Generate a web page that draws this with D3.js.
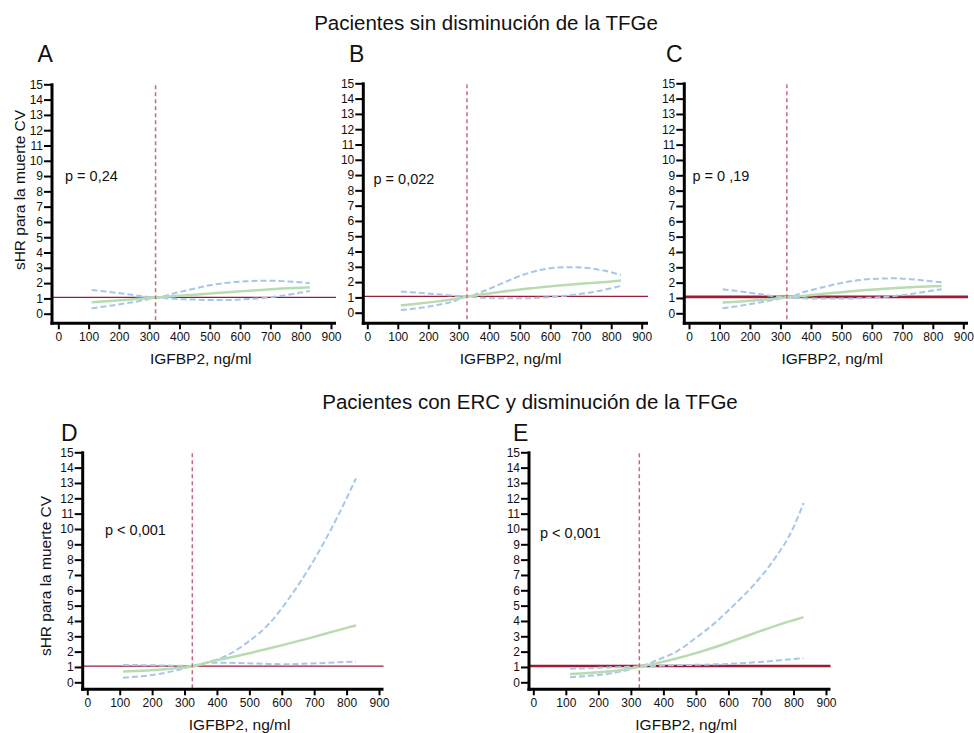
<!DOCTYPE html>
<html>
<head>
<meta charset="utf-8">
<script src="https://cdn.jsdelivr.net/npm/d3@7"></script>
<style>
  body { margin: 0; background: #fff; }
  text { font-family: "Liberation Sans", Arial, Helvetica, sans-serif; fill: #111; }
</style>
</head>
<body>
<svg id="chart" width="974" height="733"></svg>
<script>
/* chart text */
var titleTop = "Pacientes sin disminución de la TFGe";
var titleBottom = "Pacientes con ERC y disminución de la TFGe";
var yLabel = "sHR para la muerte CV";
var xLabel = "IGFBP2, ng/ml";

/* tick labels */
var yTicks = [0, 1, 2, 3, 4, 5, 6, 7, 8, 9, 10, 11, 12, 13, 14, 15];
var xTicks = [0, 100, 200, 300, 400, 500, 600, 700, 800, 900];

/* Panel A - sin disminución */
var xA  = [110, 170, 230, 280, 321, 380, 440, 500, 560, 620, 680, 740, 800, 830];
var hrA = [0.75, 0.83, 0.92, 0.99, 1.05, 1.14, 1.23, 1.32, 1.41, 1.49, 1.57, 1.64, 1.70, 1.73];
var upA = [1.55, 1.42, 1.27, 1.14, 1.05, 1.32, 1.60, 1.86, 2.03, 2.12, 2.16, 2.13, 2.05, 1.99];
var loA = [0.35, 0.52, 0.70, 0.87, 1.05, 0.97, 0.93, 0.90, 0.90, 0.95, 1.03, 1.18, 1.38, 1.48];

/* Panel B */
var xB  = [110, 170, 230, 280, 327, 380, 440, 500, 560, 620, 680, 740, 800, 832];
var hrB = [0.48, 0.60, 0.74, 0.88, 1.05, 1.20, 1.37, 1.52, 1.64, 1.76, 1.86, 1.95, 2.04, 2.10];
var upB = [1.38, 1.30, 1.20, 1.12, 1.05, 1.40, 1.90, 2.40, 2.76, 2.95, 2.98, 2.88, 2.65, 2.47];
var loB = [0.17, 0.30, 0.50, 0.72, 1.05, 0.97, 0.94, 0.94, 0.97, 1.05, 1.18, 1.35, 1.60, 1.75];

/* Panel C */
var xC  = [110, 170, 230, 280, 321, 380, 440, 500, 560, 620, 680, 740, 800, 829];
var hrC = [0.70, 0.77, 0.86, 0.95, 1.05, 1.15, 1.27, 1.38, 1.48, 1.57, 1.65, 1.71, 1.76, 1.78];
var upC = [1.57, 1.42, 1.26, 1.12, 1.05, 1.40, 1.70, 1.98, 2.17, 2.26, 2.28, 2.20, 2.08, 2.02];
var loC = [0.33, 0.50, 0.70, 0.88, 1.05, 0.98, 0.96, 0.96, 0.98, 1.03, 1.14, 1.30, 1.48, 1.57];

/* Panel D - ERC */
var xD  = [110, 170, 230, 280, 324, 380, 440, 500, 560, 620, 680, 740, 800, 829];
var hrD = [0.70, 0.76, 0.84, 0.93, 1.03, 1.35, 1.62, 1.90, 2.20, 2.52, 2.85, 3.20, 3.55, 3.70];
var upD = [1.13, 1.12, 1.10, 1.08, 1.07, 1.35, 1.85, 2.70, 3.80, 5.40, 7.30, 9.50, 12.0, 13.3];
var loD = [0.30, 0.40, 0.58, 0.80, 1.07, 1.28, 1.27, 1.24, 1.20, 1.18, 1.22, 1.27, 1.33, 1.35];

/* Panel E */
var xE  = [113, 170, 230, 280, 326, 380, 440, 500, 560, 620, 680, 740, 800, 831];
var hrE = [0.54, 0.60, 0.70, 0.84, 1.02, 1.25, 1.55, 1.90, 2.30, 2.75, 3.20, 3.65, 4.05, 4.25];
var upE = [0.88, 0.92, 0.97, 1.00, 1.05, 1.45, 2.00, 2.90, 3.90, 5.10, 6.40, 8.00, 10.1, 11.7];
var loE = [0.33, 0.42, 0.55, 0.75, 1.02, 1.08, 1.12, 1.14, 1.17, 1.22, 1.30, 1.40, 1.52, 1.57];

/* reference IGFBP2 value, HR line and p values */
var refX = [321, 327, 321, 324, 326];
var refHR = [1.07, 1.07, 1.07, 1.05, 1.06];
var pText = ["p = 0,24", "p = 0,022", "p = 0 ,19", "p < 0,001", "p < 0,001"];
var letters = ["A", "B", "C", "D", "E"];

/* layout of each panel (pixels) */
var layout = [
  { axisX: 52,    x0: 58.3,  x900: 331,   xEnd: 336,   yTop: 84.3,  yZero: 313.7, axisY: 323.3, refW: 1.1, letter: [37.5, 62],  pPos: [65, 181],    ylab: [20, 190] },
  { axisX: 363.3, x0: 367.3, x900: 641.7, xEnd: 648,   yTop: 83.3,  yZero: 312.7, axisY: 323.3, refW: 1.1, letter: [349, 62],   pPos: [373.5, 184], ylab: null },
  { axisX: 684.3, x0: 689,   x900: 963.3, xEnd: 968,   yTop: 83.3,  yZero: 313.3, axisY: 323.3, refW: 2.6, letter: [666, 62],   pPos: [692.5, 181], ylab: null },
  { axisX: 82.7,  x0: 87.3,  x900: 379,   xEnd: 383.5, yTop: 452.3, yZero: 682.3, axisY: 689.3, refW: 1.3, letter: [61, 441],   pPos: [105, 535],   ylab: [46, 576] },
  { axisX: 529,   x0: 533.3, x900: 826,   xEnd: 830.5, yTop: 452.3, yZero: 682.3, axisY: 689.3, refW: 2.6, letter: [513, 441],  pPos: [540, 538],   ylab: null }
];

var series = [
  [xA, hrA, upA, loA],
  [xB, hrB, upB, loB],
  [xC, hrC, upC, loC],
  [xD, hrD, upD, loD],
  [xE, hrE, upE, loE]
];

var svg = d3.select("#chart");

/* group titles */
svg.append("text").attr("x", 486).attr("y", 30).attr("text-anchor", "middle")
  .style("font-size", "20.5px").text(titleTop);
svg.append("text").attr("x", 530).attr("y", 409).attr("text-anchor", "middle")
  .style("font-size", "20.5px").text(titleBottom);

var drawPanel = function(i) {
  var L = layout[i];
  var xs = series[i][0];
  var x = d3.scaleLinear().domain([0, 900]).range([L.x0, L.x900]);
  var y = d3.scaleLinear().domain([0, 15]).range([L.yZero, L.yTop]);
  var g = svg.append("g");

  var line = function(vals) {
    return d3.line()
      .x(function(d, k) { return x(xs[k]); })
      .y(function(d) { return y(d); })
      .curve(d3.curveMonotoneX)(vals);
  };

  // HR = 1 reference line
  g.append("line")
    .attr("x1", L.axisX).attr("x2", L.xEnd)
    .attr("y1", y(refHR[i])).attr("y2", y(refHR[i]))
    .attr("stroke", "#9c1c34").attr("stroke-width", L.refW);

  // confidence bands
  [series[i][2], series[i][3]].forEach(function(vals) {
    g.append("path").attr("d", line(vals))
      .attr("fill", "none").attr("stroke", "#a6c6ea")
      .attr("stroke-width", 2).attr("stroke-dasharray", "6,3");
  });

  // estimate
  g.append("path").attr("d", line(series[i][1]))
    .attr("fill", "none").attr("stroke", "#b9dbb2").attr("stroke-width", 2.5);

  // reference value (vertical dashed)
  g.append("line")
    .attr("x1", x(refX[i])).attr("x2", x(refX[i]))
    .attr("y1", L.yTop + 1).attr("y2", L.axisY)
    .attr("stroke", "#c46a7b").attr("stroke-width", 1.5).attr("stroke-dasharray", "4,3");

  // axes
  var ya = g.append("g").attr("transform", "translate(" + L.axisX + ",0)")
    .call(d3.axisLeft(y).tickValues(yTicks).tickSize(8).tickPadding(1));
  var xa = g.append("g").attr("transform", "translate(0," + L.axisY + ")")
    .call(d3.axisBottom(x).tickValues(xTicks).tickSize(6).tickPadding(3));
  [ya, xa].forEach(function(a) {
    a.select(".domain").remove();
    a.selectAll(".tick line").attr("stroke", "#000").attr("stroke-width", 2);
    a.selectAll(".tick text").style("font-size", "12px").style("font-family", null).attr("fill", "#111");
  });

  g.append("line").attr("x1", L.axisX).attr("x2", L.axisX)
    .attr("y1", L.yTop - 1).attr("y2", L.axisY + 1.5)
    .attr("stroke", "#000").attr("stroke-width", 3);
  g.append("line").attr("x1", L.axisX - 1.5).attr("x2", L.xEnd)
    .attr("y1", L.axisY).attr("y2", L.axisY)
    .attr("stroke", "#000").attr("stroke-width", 3);

  // labels
  g.append("text").attr("x", x(470)).attr("y", L.axisY + 41)
    .attr("text-anchor", "middle").style("font-size", "15.5px").text(xLabel);
  if (L.ylab) {
    g.append("text")
      .attr("transform", "translate(" + L.ylab[0] + "," + L.ylab[1] + ") rotate(-90)")
      .attr("text-anchor", "middle").attr("dy", "0.35em")
      .style("font-size", "15.5px").text(yLabel);
  }
  g.append("text").attr("x", L.letter[0]).attr("y", L.letter[1])
    .style("font-size", "23px").text(letters[i]);
  g.append("text").attr("x", L.pPos[0]).attr("y", L.pPos[1])
    .style("font-size", "14.5px").text(pText[i]);
};

for (var i = 0; i < 5; i++) {
  drawPanel(i);
}
</script>
</body>
</html>
